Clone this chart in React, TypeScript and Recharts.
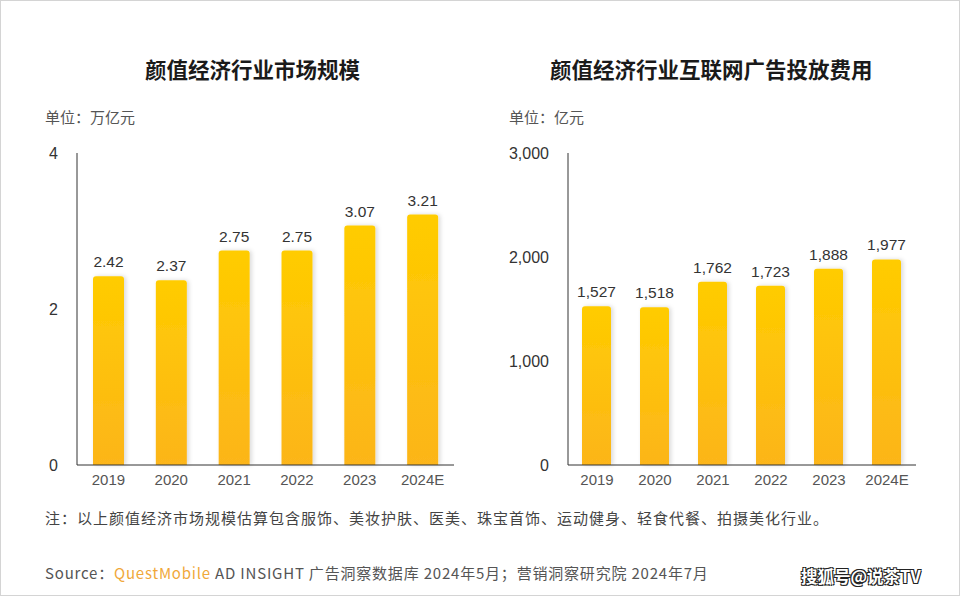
import { BarChart, Bar, XAxis, YAxis, LabelList } from 'recharts';

const years = ['2019', '2020', '2021', '2022', '2023', '2024E'];
const marketSize = [2.42, 2.37, 2.75, 2.75, 3.07, 3.21];
const adSpend = [1527, 1518, 1762, 1723, 1888, 1977];
const marketTicks = [0, 2, 4];
const adTicks = [0, 1000, 2000, 3000];

const marketData = years.map((year, i) => ({ year, value: marketSize[i] }));
const adData = years.map((year, i) => ({ year, value: adSpend[i] }));

const FONT = '"Liberation Sans", "Noto Sans CJK SC", sans-serif';
const CJK = '"Noto Sans CJK SC", "Liberation Sans", sans-serif';

const fmt = (v: number) => v.toLocaleString('en-US');

interface PanelProps {
  data: { year: string; value: number }[];
  ticks: number[];
  left: number;
  marginLeft: number;
  marginRight: number;
  barSize: number;
  id: string;
  comma?: boolean;
}

function Panel({ data, ticks, left, marginLeft, marginRight, barSize, id, comma }: PanelProps) {
  return (
    <div style={{ position: 'absolute', left, top: 0 }}>
      <BarChart
        width={470}
        height={500}
        data={data}
        margin={{ top: 152, right: marginRight, left: marginLeft, bottom: 6 }}
      >
        <defs>
          <linearGradient id={`grad-${id}`} x1="0" y1="0" x2="0" y2="1">
            <stop offset="0%" stopColor="#FFCC00" />
            <stop offset="100%" stopColor="#FCB51A" />
          </linearGradient>
          <filter id={`shadow-${id}`} x="-30%" y="-10%" width="160%" height="120%">
            <feDropShadow dx="2" dy="0" stdDeviation="2" floodColor="#000" floodOpacity="0.15" />
          </filter>
        </defs>
        <XAxis
          dataKey="year"
          axisLine={{ stroke: '#333', strokeWidth: 1 }}
          tickLine={false}
          tickSize={0}
          tickMargin={9}
          height={30}
          tick={{ fontSize: 15, fill: '#555', fontFamily: FONT }}
          interval={0}
        />
        <YAxis
          width={0.0001}
          domain={[ticks[0], ticks[ticks.length - 1]]}
          ticks={ticks}
          axisLine={{ stroke: '#333', strokeWidth: 1 }}
          tickLine={false}
          tickSize={0}
          tickMargin={19}
          tick={{ fontSize: 16, fill: '#333', fontFamily: FONT }}
          tickFormatter={(v: number) => (comma ? fmt(v) : String(v))}
          interval={0}
        />
        <Bar
          dataKey="value"
          barSize={barSize}
          fill={`url(#grad-${id})`}
          radius={[3, 3, 0, 0]}
          filter={`url(#shadow-${id})`}
          isAnimationActive={false}
        >
          <LabelList
            dataKey="value"
            position="top"
            offset={9}
            formatter={(v: number) => (comma ? fmt(v) : v.toFixed(2))}
            style={{ fontSize: 15.5, fill: '#333', fontFamily: FONT }}
          />
        </Bar>
      </BarChart>
    </div>
  );
}

export default function App() {
  const text = (style: React.CSSProperties, content: React.ReactNode) => (
    <div style={{ position: 'absolute', whiteSpace: 'nowrap', fontFamily: CJK, ...style }}>{content}</div>
  );
  return (
    <div
      style={{
        position: 'absolute',
        left: 0,
        top: 0,
        width: 960,
        height: 596,
        background: '#fff',
        border: '1px solid #d4d4d4',
        boxSizing: 'border-box',
        overflow: 'hidden',
      }}
    >
      <Panel data={marketData} ticks={marketTicks} left={0} marginLeft={76} marginRight={17} barSize={31} id="m" />
      <Panel data={adData} ticks={adTicks} left={480} marginLeft={87} marginRight={35} barSize={29} id="a" comma />

      {text({ left: 144, top: 52, fontSize: 21.5, fontWeight: 700, color: '#1a1a1a' }, '颜值经济行业市场规模')}
      {text({ left: 549, top: 52, fontSize: 21.5, fontWeight: 700, color: '#1a1a1a' }, '颜值经济行业互联网广告投放费用')}
      {text({ left: 44, top: 105, fontSize: 15, color: '#555' }, '单位：万亿元')}
      {text({ left: 508, top: 105, fontSize: 15, color: '#555' }, '单位：亿元')}
      {text(
        { left: 44, top: 506, fontSize: 15, color: '#444', letterSpacing: 1 },
        '注：以上颜值经济市场规模估算包含服饰、美妆护肤、医美、珠宝首饰、运动健身、轻食代餐、拍摄美化行业。'
      )}
      {text(
        { left: 44, top: 561, fontSize: 15, color: '#555', letterSpacing: 0.8 },
        <>
          Source：<span style={{ color: '#F0A83A' }}>QuestMobile</span> AD INSIGHT 广告洞察数据库 2024年5月；营销洞察研究院 2024年7月
        </>
      )}
      {text(
        {
          left: 800,
          top: 563,
          fontSize: 16.5,
          fontWeight: 700,
          color: '#fff',
          textShadow: '-1px -1px 0 #222, 1px -1px 0 #222, -1px 1px 0 #222, 1px 1px 0 #222',
        },
        '搜狐号@说茶TV'
      )}
    </div>
  );
}
